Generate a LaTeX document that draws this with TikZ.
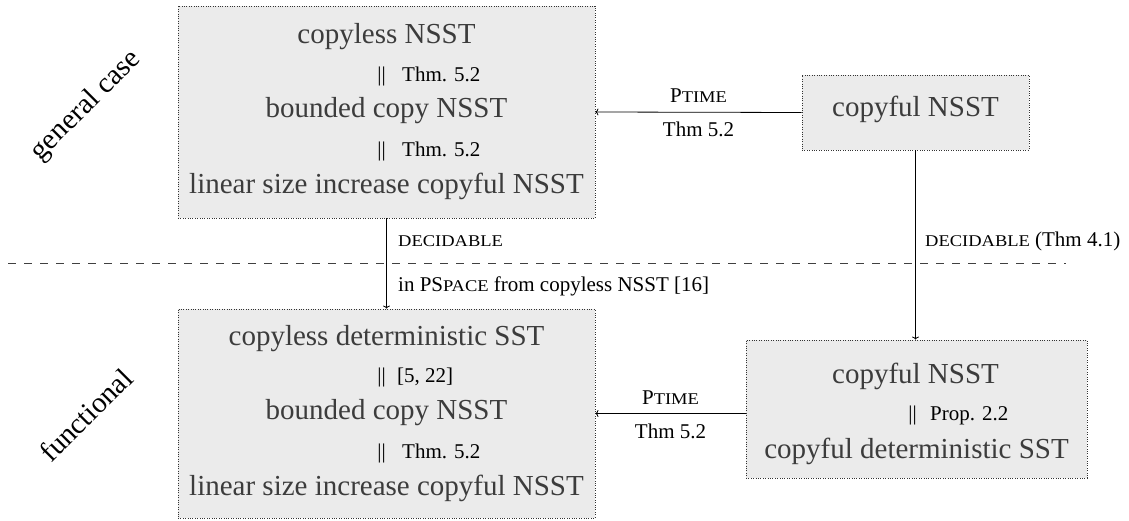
\documentclass[tikz,border=0pt]{standalone}
\usepackage{fontspec}
\usepackage{graphicx}
\setmainfont{Liberation Serif}
\usetikzlibrary{arrows.meta}
\definecolor{boxfill}{HTML}{EBEBEB}
\definecolor{boxtext}{HTML}{3C3C3C}
\newcommand{\smc}[1]{\scalebox{0.88}[0.78]{#1}}
\begin{document}
\begin{tikzpicture}[x=1pt,y=-1pt,
  box/.style={draw=black!80, line width=0.8pt, dash pattern=on 0.8pt off 1.6pt, fill=boxfill, inner sep=0pt},
  big/.style={font=\fontsize{29}{34}\selectfont, text=boxtext, anchor=base, inner sep=0pt},
  small/.style={font=\fontsize{21}{25}\selectfont, text=black, anchor=base, inner sep=0pt},
  smallw/.style={small, anchor=base west},
  conn/.style={line width=0.8pt, -{To[length=3pt,width=7pt]}},
  side/.style={font=\fontsize{29}{34}\selectfont, rotate=45, inner sep=0pt}
]
\useasboundingbox (0,0) rectangle (1129,521);
% dashed separator
\coordinate (dl) at (8,263);
\coordinate (dr) at (1066,263);
\draw[line width=0.9pt, black!75, dash pattern=on 8pt off 8pt] (dl) -- (dr);

% boxes
\node[box, minimum width=417pt, minimum height=212pt] (A) at (386.5,112) {};
\node[box, minimum width=227pt, minimum height=75pt] (B) at (915.5,112.5) {};
\node[box, minimum width=417pt, minimum height=209pt] (C) at (386.5,413.5) {};
\node[box, minimum width=341pt, minimum height=138pt] (D) at (916.5,409) {};

% box A contents
\node[big] (a1) at (386.5,44) {copyless NSST};
\node[small] (a2) at (381.5,82) {||};
\node[smallw] (a3) at (402,82) {Thm. 5.2};
\node[big] (a4) at (386.5,118) {bounded copy NSST};
\node[small] (a5) at (381.5,157) {||};
\node[smallw] (a6) at (402,157) {Thm. 5.2};
\node[big] (a7) at (386.5,194) {linear size increase copyful NSST};

% box B
\node[big] (b1) at (915.5,117) {copyful NSST};

% box C contents
\node[big] (c1) at (386.5,345) {copyless deterministic SST};
\node[small] (c2) at (381.5,382) {||};
\node[smallw] (c3) at (397,382) {[5, 22]};
\node[big] (c4) at (386.5,419) {bounded copy NSST};
\node[small] (c5) at (381.5,458) {||};
\node[smallw] (c6) at (402,458) {Thm. 5.2};
\node[big] (c7) at (386.5,495) {linear size increase copyful NSST};

% box D contents
\node[big] (d1) at (915.5,383) {copyful NSST};
\node[small] (d2) at (912.5,420) {||};
\node[smallw] (d3) at (930,420) {Prop. 2.2};
\node[big] (d4) at (916.5,458) {copyful deterministic SST};

% connectors
\draw[conn] (B.west) -- (A.east);
\draw[conn] (A.south) -- (C.north);
\draw[conn] (B.south) -- (B.south |- D.north);
\draw[conn] (D.west |- C.east) -- (C.east);

% connector labels
\node[small] (l1) at (698.5,103) {P\smc{TIME}};
\node[small] (l2) at (698.5,137) {Thm 5.2};
\node[small] (l3) at (670.5,404) {P\smc{TIME}};
\node[small] (l4) at (670.5,438) {Thm 5.2};
\node[smallw] (l5) at (398,247) {\smc{DECIDABLE}};
\node[smallw] (l6) at (398,291) {in PS\smc{PACE} from copyless NSST [16]};
\node[smallw] (l7) at (925,247) {\smc{DECIDABLE} (Thm 4.1)};

% side labels
\node[side] (s1) at (86,106) {general case};
\node[side] (s2) at (86,415) {functional};
\end{tikzpicture}
\end{document}
